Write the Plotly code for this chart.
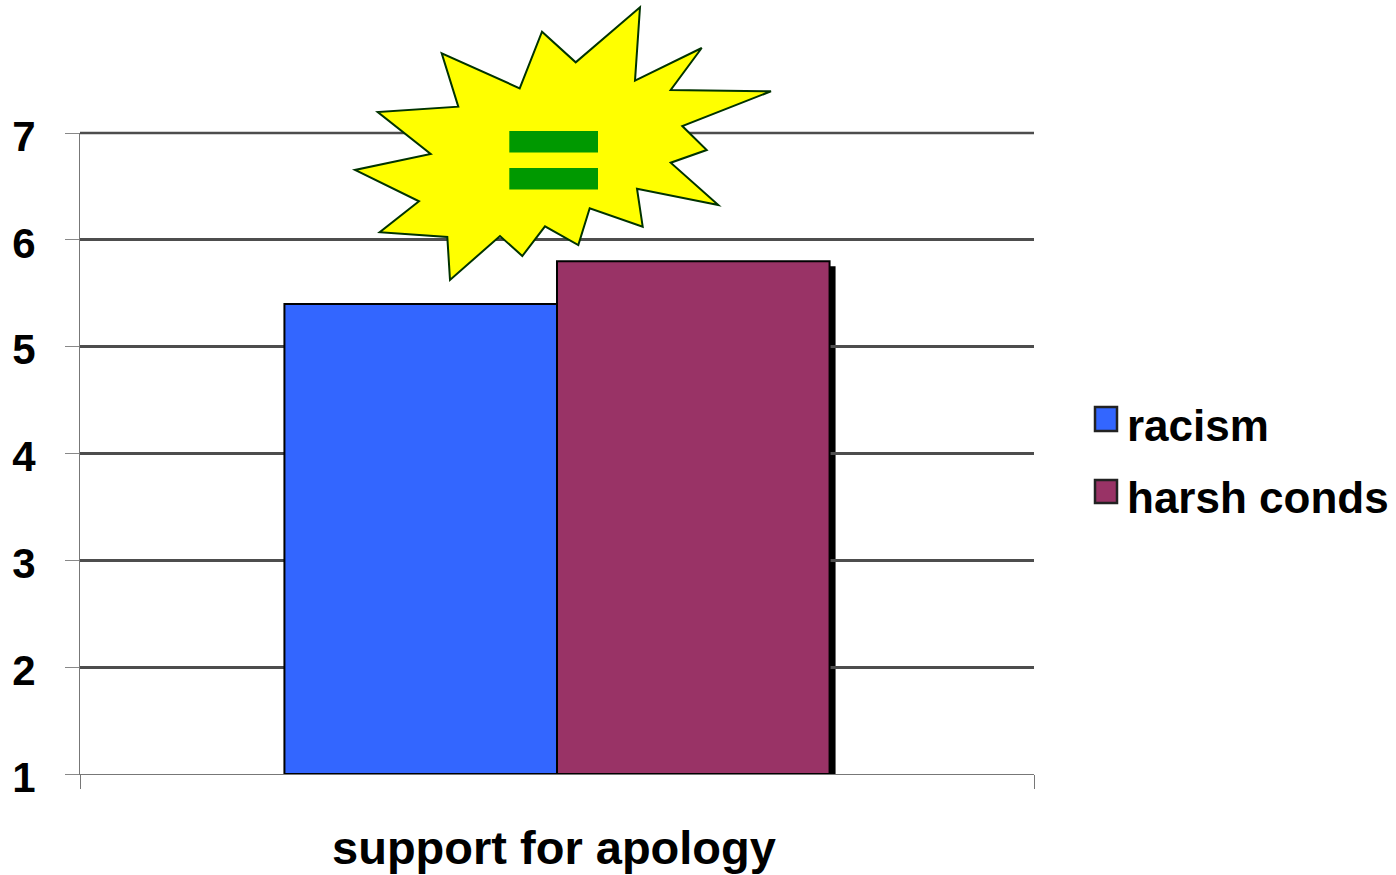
import plotly.graph_objects as go

# Chart data
categories = ["support for apology"]
series_names = ["racism", "harsh conds"]
racism_values = [5.4]
harsh_values = [5.8]
y_ticks = [1, 2, 3, 4, 5, 6, 7]

series_colors = ["#3366FF", "#993366"]

# Canvas and plot-area geometry, in pixels
W, H = 1396, 875
LEFT, RIGHT, TOP, BOTTOM = 80, 1034, 133, 774
FONT = "Liberation Sans, Arial, sans-serif"
BAR_SHARE = 2 / 7  # each bar's width as a share of the category band
GRID_COLOR = "#4D4D4D"
GRID_WIDTH = 2.5
PX_PER_UNIT_X = RIGHT - LEFT
PX_PER_UNIT_Y = (BOTTOM - TOP) / (y_ticks[-1] - y_ticks[0])


def px(x):
    return (x - LEFT) / (RIGHT - LEFT)


def py(y):
    return (BOTTOM - y) / (BOTTOM - TOP)


# Callout burst behind the equals sign (canvas pixels)
burst_outline = [
    (640.0, 7.3), (635.0, 80.7), (701.7, 48.0), (670.7, 90.0), (771.0, 91.3),
    (682.3, 126.0), (706.7, 150.0), (670.7, 162.7), (718.3, 205.0), (637.0, 188.7),
    (642.7, 226.7), (589.7, 208.3), (578.3, 245.0), (545.0, 226.3), (522.3, 256.0),
    (500.0, 236.0), (450.0, 280.0), (447.3, 237.0), (379.7, 232.3), (419.0, 201.3),
    (355.0, 170.0), (430.7, 154.0), (377.7, 112.0), (458.3, 106.7), (441.7, 53.3),
    (519.7, 88.3), (542.0, 31.7), (575.7, 62.3),
]
burst_path = "M " + " L ".join(f"{px(x):.5f},{py(y):.5f}" for x, y in burst_outline) + " Z"

fig = go.Figure()
for name, values, color in zip(series_names, [racism_values, harsh_values], series_colors):
    fig.add_bar(
        x=categories, y=[v - 1 for v in values], base=1, name=name,
        marker=dict(color=color, line=dict(color="#000000", width=2)),
        showlegend=False,
    )

shapes = []

# Plotly skips the gridline on the end of the range; a paper-referenced line is not clipped
shapes.append(dict(
    type="line", layer="below", xref="paper", yref="paper",
    x0=0, x1=1, y0=1, y1=1,
    line=dict(color=GRID_COLOR, width=GRID_WIDTH),
))

# Drop shadow to the right of the taller bar
shapes.append(dict(
    type="rect", layer="below", xref="x", yref="y",
    x0=BAR_SHARE - 6 / PX_PER_UNIT_X, x1=BAR_SHARE + 6 / PX_PER_UNIT_X,
    y0=1, y1=harsh_values[0] - 5 / PX_PER_UNIT_Y,
    fillcolor="#000000", line=dict(width=0),
))

# Burst and equals sign
shapes.append(dict(
    type="path", xref="paper", yref="paper", path=burst_path,
    fillcolor="#FFFF00", line=dict(color="#003300", width=2),
))
for top, bottom in [(131, 152.5), (168, 189.5)]:
    shapes.append(dict(
        type="rect", xref="paper", yref="paper",
        x0=px(509.3), x1=px(598), y0=py(bottom), y1=py(top),
        fillcolor="#009900", line=dict(width=0),
    ))

# Hand-placed legend, sized larger than the built-in swatches allow
annotations = []
legend_rows = [(407, 431, 425), (480, 503, 497)]
for name, color, (top, bottom, mid) in zip(series_names, series_colors, legend_rows):
    shapes.append(dict(
        type="rect", xref="paper", yref="paper",
        x0=px(1095), x1=px(1117), y0=py(bottom), y1=py(top),
        fillcolor=color, line=dict(color="#222222", width=2.5),
    ))
    annotations.append(dict(
        xref="paper", yref="paper", x=px(1125), y=py(mid),
        xanchor="left", yanchor="middle", showarrow=False, text=f"<b>{name}</b>",
        font=dict(family=FONT, size=44, color="#000000"),
    ))

fig.update_layout(
    width=W, height=H,
    margin=dict(l=LEFT, r=W - RIGHT, t=TOP, b=H - BOTTOM, autoexpand=False),
    paper_bgcolor="#FFFFFF", plot_bgcolor="#FFFFFF",
    barmode="group", bargap=1 - 2 * BAR_SHARE, bargroupgap=0,
    shapes=shapes, annotations=annotations,
    showlegend=False,
    font=dict(family=FONT, color="#000000"),
    xaxis=dict(
        type="category", tickson="boundaries", ticks="outside", ticklen=14, tickwidth=1,
        tickcolor="#777777", showline=True, linecolor="#777777", linewidth=1,
        showgrid=False, zeroline=False, ticklabelstandoff=33, ticklabelshift=-3,
        tickfont=dict(family=FONT, size=47, weight="bold"),
    ),
    yaxis=dict(
        range=[y_ticks[0], y_ticks[-1]],
        tickvals=y_ticks, ticks="outside", ticklen=14,
        tickwidth=1, tickcolor="#888888", showline=True, linecolor="#777777", linewidth=1,
        showgrid=True, gridcolor=GRID_COLOR, gridwidth=GRID_WIDTH, zeroline=False,
        ticklabelstandoff=21, ticklabelshift=3,
        tickfont=dict(family=FONT, size=42, weight="bold"),
    ),
)

fig.write_html("out.html")
